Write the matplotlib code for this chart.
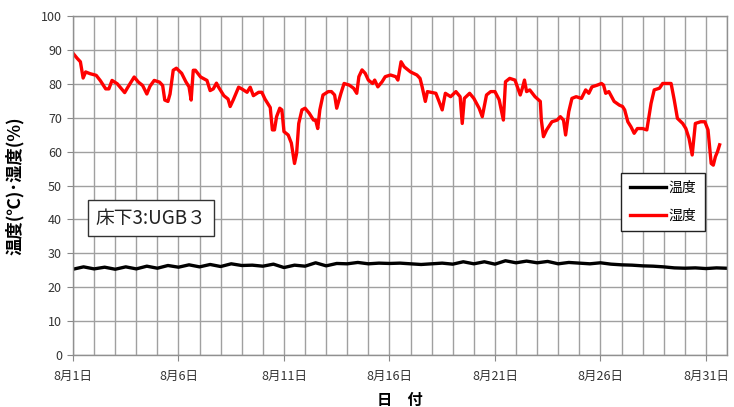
import matplotlib
matplotlib.use("Agg")
import matplotlib.pyplot as plt
from matplotlib.ticker import MultipleLocator

plt.rcParams['font.family'] = ['Noto Sans CJK JP', 'DejaVu Sans']

# ---- data (day of August, value) ----
temp_day = [1.0, 1.5, 2.0, 2.5, 3.0, 3.5, 4.0, 4.5, 5.0, 5.5, 6.0, 6.5, 7.0, 7.5, 8.0, 8.5,
            9.0, 9.5, 10.0, 10.5, 11.0, 11.5, 12.0, 12.5, 13.0, 13.5, 14.0, 14.5, 15.0, 15.5,
            16.0, 16.5, 17.0, 17.5, 18.0, 18.5, 19.0, 19.5, 20.0, 20.5, 21.0, 21.5, 22.0, 22.5,
            23.0, 23.5, 24.0, 24.5, 25.0, 25.5, 26.0, 26.5, 27.0, 27.5, 28.0, 28.5, 29.0, 29.5,
            30.0, 30.5, 31.0, 31.5, 31.95]
temp_val = [25.3, 26.0, 25.4, 25.9, 25.3, 26.0, 25.4, 26.2, 25.6, 26.4, 25.9, 26.6, 26.0, 26.7,
            26.1, 26.9, 26.4, 26.5, 26.2, 26.8, 25.8, 26.5, 26.2, 27.2, 26.3, 27.0, 26.9, 27.3,
            26.9, 27.1, 27.0, 27.1, 26.9, 26.7, 26.9, 27.1, 26.8, 27.5, 26.9, 27.5, 26.8, 27.8,
            27.2, 27.7, 27.2, 27.6, 26.9, 27.3, 27.1, 26.9, 27.2, 26.8, 26.6, 26.5, 26.3, 26.2,
            26.0, 25.7, 25.6, 25.7, 25.5, 25.7, 25.6]

hum_day = [1.0, 1.2, 1.35, 1.42, 1.48, 1.6, 1.8, 2.1, 2.3, 2.55, 2.7, 2.85, 3.1, 3.3, 3.45, 3.6,
           3.9, 4.1, 4.3, 4.5, 4.65, 4.85, 5.1, 5.25, 5.35, 5.5, 5.6, 5.75, 5.9, 6.15, 6.35, 6.5,
           6.6, 6.7, 6.8, 7.05, 7.35, 7.5, 7.65, 7.8, 7.9, 8.15, 8.35, 8.45, 8.6, 8.85, 9.0, 9.25,
           9.4, 9.55, 9.8, 9.95, 10.1, 10.35, 10.45, 10.55, 10.65, 10.8, 10.9, 11.0, 11.2, 11.35,
           11.5, 11.6, 11.7, 11.85, 12.0, 12.2, 12.4, 12.5, 12.6, 12.7, 12.85, 13.1, 13.25, 13.4,
           13.5, 13.7, 13.85, 14.1, 14.3, 14.45, 14.55, 14.7, 14.85, 15.0, 15.2, 15.3, 15.45,
           15.65, 15.8, 16.05, 16.3, 16.4, 16.55, 16.7, 17.0, 17.3, 17.45, 17.55, 17.7, 17.8,
           18.2, 18.35, 18.5, 18.65, 18.9, 19.15, 19.35, 19.45, 19.55, 19.8, 20.0, 20.25, 20.4,
           20.6, 20.8, 21.0, 21.2, 21.4, 21.5, 21.7, 21.95, 22.2, 22.3, 22.4, 22.5, 22.65, 22.9,
           23.15, 23.2, 23.3, 23.45, 23.7, 23.95, 24.1, 24.25, 24.35, 24.5, 24.65, 24.85, 25.1,
           25.3, 25.45, 25.6, 25.85, 26.05, 26.15, 26.25, 26.4, 26.65, 26.9, 27.05, 27.15, 27.3,
           27.45, 27.6, 27.75, 28.0, 28.2, 28.4, 28.55, 28.8, 28.95, 29.2, 29.35, 29.5, 29.65,
           29.9, 30.05, 30.2, 30.35, 30.42, 30.5, 30.75, 30.95, 31.1, 31.25, 31.35, 31.45, 31.55,
           31.65]
hum_val = [89.0, 87.5, 86.5, 84.0, 81.7, 83.5, 83.0, 82.5, 80.9, 78.5, 78.5, 81.0, 80.0, 78.5,
           77.4, 79.0, 82.0, 80.5, 79.5, 77.0, 79.3, 81.0, 80.5, 79.5, 75.2, 74.8, 77.0, 84.0,
           84.6, 83.1, 80.6, 79.1, 75.2, 84.0, 84.0, 82.0, 81.0, 78.0, 78.5, 80.2, 79.0, 76.5,
           75.5, 73.3, 75.3, 79.0, 78.5, 77.5, 79.0, 76.5, 77.5, 77.5, 75.5, 73.0, 66.4, 66.4,
           70.3, 72.8, 72.3, 65.9, 64.9, 62.5, 56.5, 59.5, 68.3, 72.3, 72.8, 71.3, 69.3, 69.3,
           66.8, 72.3, 76.7, 77.7, 77.7, 76.7, 72.8, 77.2, 80.1, 79.6, 78.7, 77.2, 82.1, 84.1,
           83.1, 81.1, 80.1, 81.1, 79.1, 80.6, 82.1, 82.6, 82.1, 81.1, 86.5, 85.0, 83.5, 82.6,
           81.6, 79.1, 74.8, 77.7, 77.2, 74.8, 72.3, 77.2, 76.2, 77.7, 76.2, 68.3, 75.7, 77.2,
           75.7, 72.8, 70.3, 76.7, 77.7, 77.7, 75.3, 69.3, 80.6, 81.6, 81.1, 76.7, 78.7, 81.1,
           77.7, 78.2, 76.2, 74.8, 69.3, 64.4, 66.4, 68.8, 69.3, 70.3, 69.3, 64.9, 71.8, 75.7,
           76.2, 75.7, 78.2, 77.2, 79.1, 79.6, 80.1, 79.6, 77.2, 77.7, 74.8, 73.7, 73.3, 72.3,
           68.8, 67.3, 65.4, 66.8, 66.8, 66.4, 74.2, 78.2, 78.7, 80.1, 80.1, 80.1, 75.2, 69.8,
           68.3, 66.8, 63.9, 59.0, 63.4, 68.3, 68.8, 68.8, 66.4, 56.5, 56.0, 58.5, 60.0, 62.0]

tick_days = [1, 6, 11, 16, 21, 26, 31]
tick_labels = ['8月1日', '8月6日', '8月11日', '8月16日', '8月21日', '8月26日', '8月31日']
series_names = ['温度', '湿度']

fig = plt.figure(figsize=(7.34, 4.07), dpi=100)
ax = fig.add_axes([73/734, 1-355/407, (727-73)/734, (355-16)/407])

ax.plot(temp_day, temp_val, color='black', lw=2.4, label=series_names[0], solid_joinstyle='round')
ax.plot(hum_day, hum_val, color='#ff0000', lw=2.4, label=series_names[1], solid_joinstyle='round')

ax.set_xlim(1, 32)
ax.set_ylim(0, 100)
ax.yaxis.set_major_locator(MultipleLocator(10))
ax.set_xticks(tick_days)
ax.set_xticklabels(tick_labels, fontsize=9)
ax.xaxis.set_minor_locator(MultipleLocator(1))
ax.tick_params(axis='x', which='minor', length=0)
ax.tick_params(axis='both', which='major', length=4, color='#888888', labelsize=9,
               labelcolor='#333333')
ax.tick_params(axis='x', pad=7)
ax.tick_params(axis='y', pad=4)
ax.grid(True, which='both', axis='x', color='#a0a0a0', lw=1)
ax.grid(True, which='major', axis='y', color='#a0a0a0', lw=1)
ax.set_axisbelow(True)
for s in ax.spines.values():
    s.set_color('#909090')
    s.set_linewidth(1)

ax.set_ylabel('温度(℃)･湿度(%)', fontsize=12.5, fontweight='bold', labelpad=12,
              family=['Noto Sans CJK JP', 'DejaVu Sans'])
ax.set_xlabel('日　付', fontsize=11, fontweight='bold', labelpad=6)

ax.text(0.035, 0.403, '床下3:UGB３', transform=ax.transAxes, fontsize=13.5,
        ha='left', va='center', color='#222222',
        bbox=dict(boxstyle='square,pad=0.4', fc='white', ec='#333333', lw=1))

leg = ax.legend(loc='upper right', bbox_to_anchor=(0.966, 0.537), fontsize=10,
                frameon=True, fancybox=False, framealpha=1, edgecolor='#222222',
                handlelength=2.6, borderpad=0.6, labelspacing=0.95, handletextpad=0.2,
                borderaxespad=0)
leg.get_frame().set_linewidth(1)

fig.savefig('out.png', dpi=100, facecolor='white')
